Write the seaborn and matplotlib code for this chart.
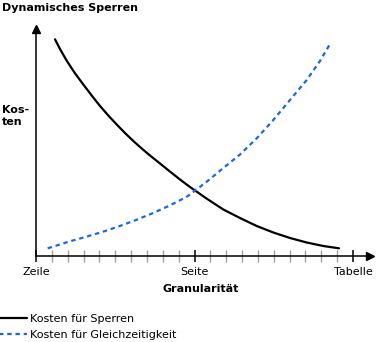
import matplotlib
matplotlib.use("Agg")
import matplotlib.pyplot as plt
import seaborn as sns
import pandas as pd

# Data (x in granularity units: Zeile=0, Seite=10, Tabelle=20)
sperren_x = [1.199, 1.514, 1.937, 2.461, 2.984, 3.514, 4.038, 4.562, 5.091, 5.615, 6.139, 6.669, 7.192,
             7.823, 8.410, 9.085, 9.672, 10.757, 11.817, 12.871, 13.925, 14.972, 16.025, 17.079, 18.126, 19.117]
sperren_y = [216.7, 207, 195.3, 182.7, 171.5, 160.5, 150, 140.5, 131.5, 123, 115, 107.5, 100.5,
             92.5, 85, 76.5, 69.5, 57.5, 46.5, 38, 30, 23.5, 18, 13.5, 10, 7.7]
gleich_x = [0.738, 2.101, 3.155, 4.208, 5.256, 6.309, 7.363, 8.410, 9.464, 9.716, 10.770, 11.817,
            12.871, 13.925, 14.972, 16.025, 17.079, 17.918, 18.549]
gleich_y = [7.7, 14.5, 19.2, 24.2, 29.8, 36, 42.8, 50.3, 58.8, 61.5, 74.3, 88,
            101.5, 117.7, 136, 156, 176, 195, 212]
major_ticks = [0, 10, 20]
major_labels = ["Zeile", "Seite", "Tabelle"]
minor_ticks = [1, 2, 3, 4, 5, 6, 7, 8, 9, 11, 12, 13, 14, 15, 16, 17, 18, 19]
series_labels = ["Kosten für Sperren", "Kosten für Gleichzeitigkeit"]

sns.set_style("white")
plt.rcParams['font.family'] = ['DejaVu Sans']
plt.rcParams['text.color'] = 'black'
plt.rcParams['xtick.labelcolor'] = 'black'

W, H = 382, 342
fig = plt.figure(figsize=(W / 100, H / 100), dpi=100)
x0, x1 = 36, 370
y0, y1 = 256, 29
ax = fig.add_axes([x0 / W, (H - y0) / H, (x1 - x0) / W, (y0 - y1) / H])

df1 = pd.DataFrame({"x": sperren_x, "y": sperren_y})
df2 = pd.DataFrame({"x": gleich_x, "y": gleich_y})
sns.lineplot(data=df1, x="x", y="y", ax=ax, color="black", linewidth=1.6,
             label=series_labels[0], sort=False)
sns.lineplot(data=df2, x="x", y="y", ax=ax, color="#1A66E6", linewidth=1.6,
             linestyle=(0, (2.0, 1.7)), label=series_labels[1], sort=False)

ax.set_xlim(0, (x1 - x0) / 15.85)
ax.set_ylim(0, y0 - y1)
for s in ["top", "right"]:
    ax.spines[s].set_visible(False)
for s in ["left", "bottom"]:
    ax.spines[s].set_color("black")
    ax.spines[s].set_linewidth(1.1)
ax.set_yticks([])
ax.set_xticks(major_ticks)
ax.set_xticklabels(major_labels, fontsize=8, color="black")
ax.set_xticks(minor_ticks, minor=True)
ax.tick_params(axis="x", which="major", direction="inout", length=8, width=1.1, color="black", pad=4.0, bottom=True)
ax.tick_params(axis="x", which="minor", direction="inout", length=8, width=1.0, color="#A0A0A0", bottom=True)
ax.set_xlabel("")
ax.set_ylabel("")

# arrow heads
ax.plot([1], [0], marker=">", color="black", markersize=6, transform=ax.transAxes, clip_on=False)
ax.plot([0], [1], marker="^", color="black", markersize=6, transform=ax.transAxes, clip_on=False)

fig.text(2 / W, 1 - 8 / H, "Dynamisches Sperren", fontsize=8, fontweight="bold", va="center", ha="left", color="black")
fig.text(2 / W, 1 - 116 / H, "Kos-\nten", fontsize=8, fontweight="bold", va="center", ha="left", linespacing=1.2, color="black")
fig.text(201 / W, 1 - 289 / H, "Granularität", fontsize=8, fontweight="bold", va="center", ha="center", color="black")

handles, labels = ax.get_legend_handles_labels()
ax.legend_.remove()
fig.legend(handles, labels, loc="upper left", bbox_to_anchor=(-4 / W, 1 - 312 / H),
           frameon=False, fontsize=8, handlelength=2.6, handletextpad=0.3,
           labelspacing=0.55, borderaxespad=0, borderpad=0.2, labelcolor="black")

fig.savefig("out.png", dpi=100)
